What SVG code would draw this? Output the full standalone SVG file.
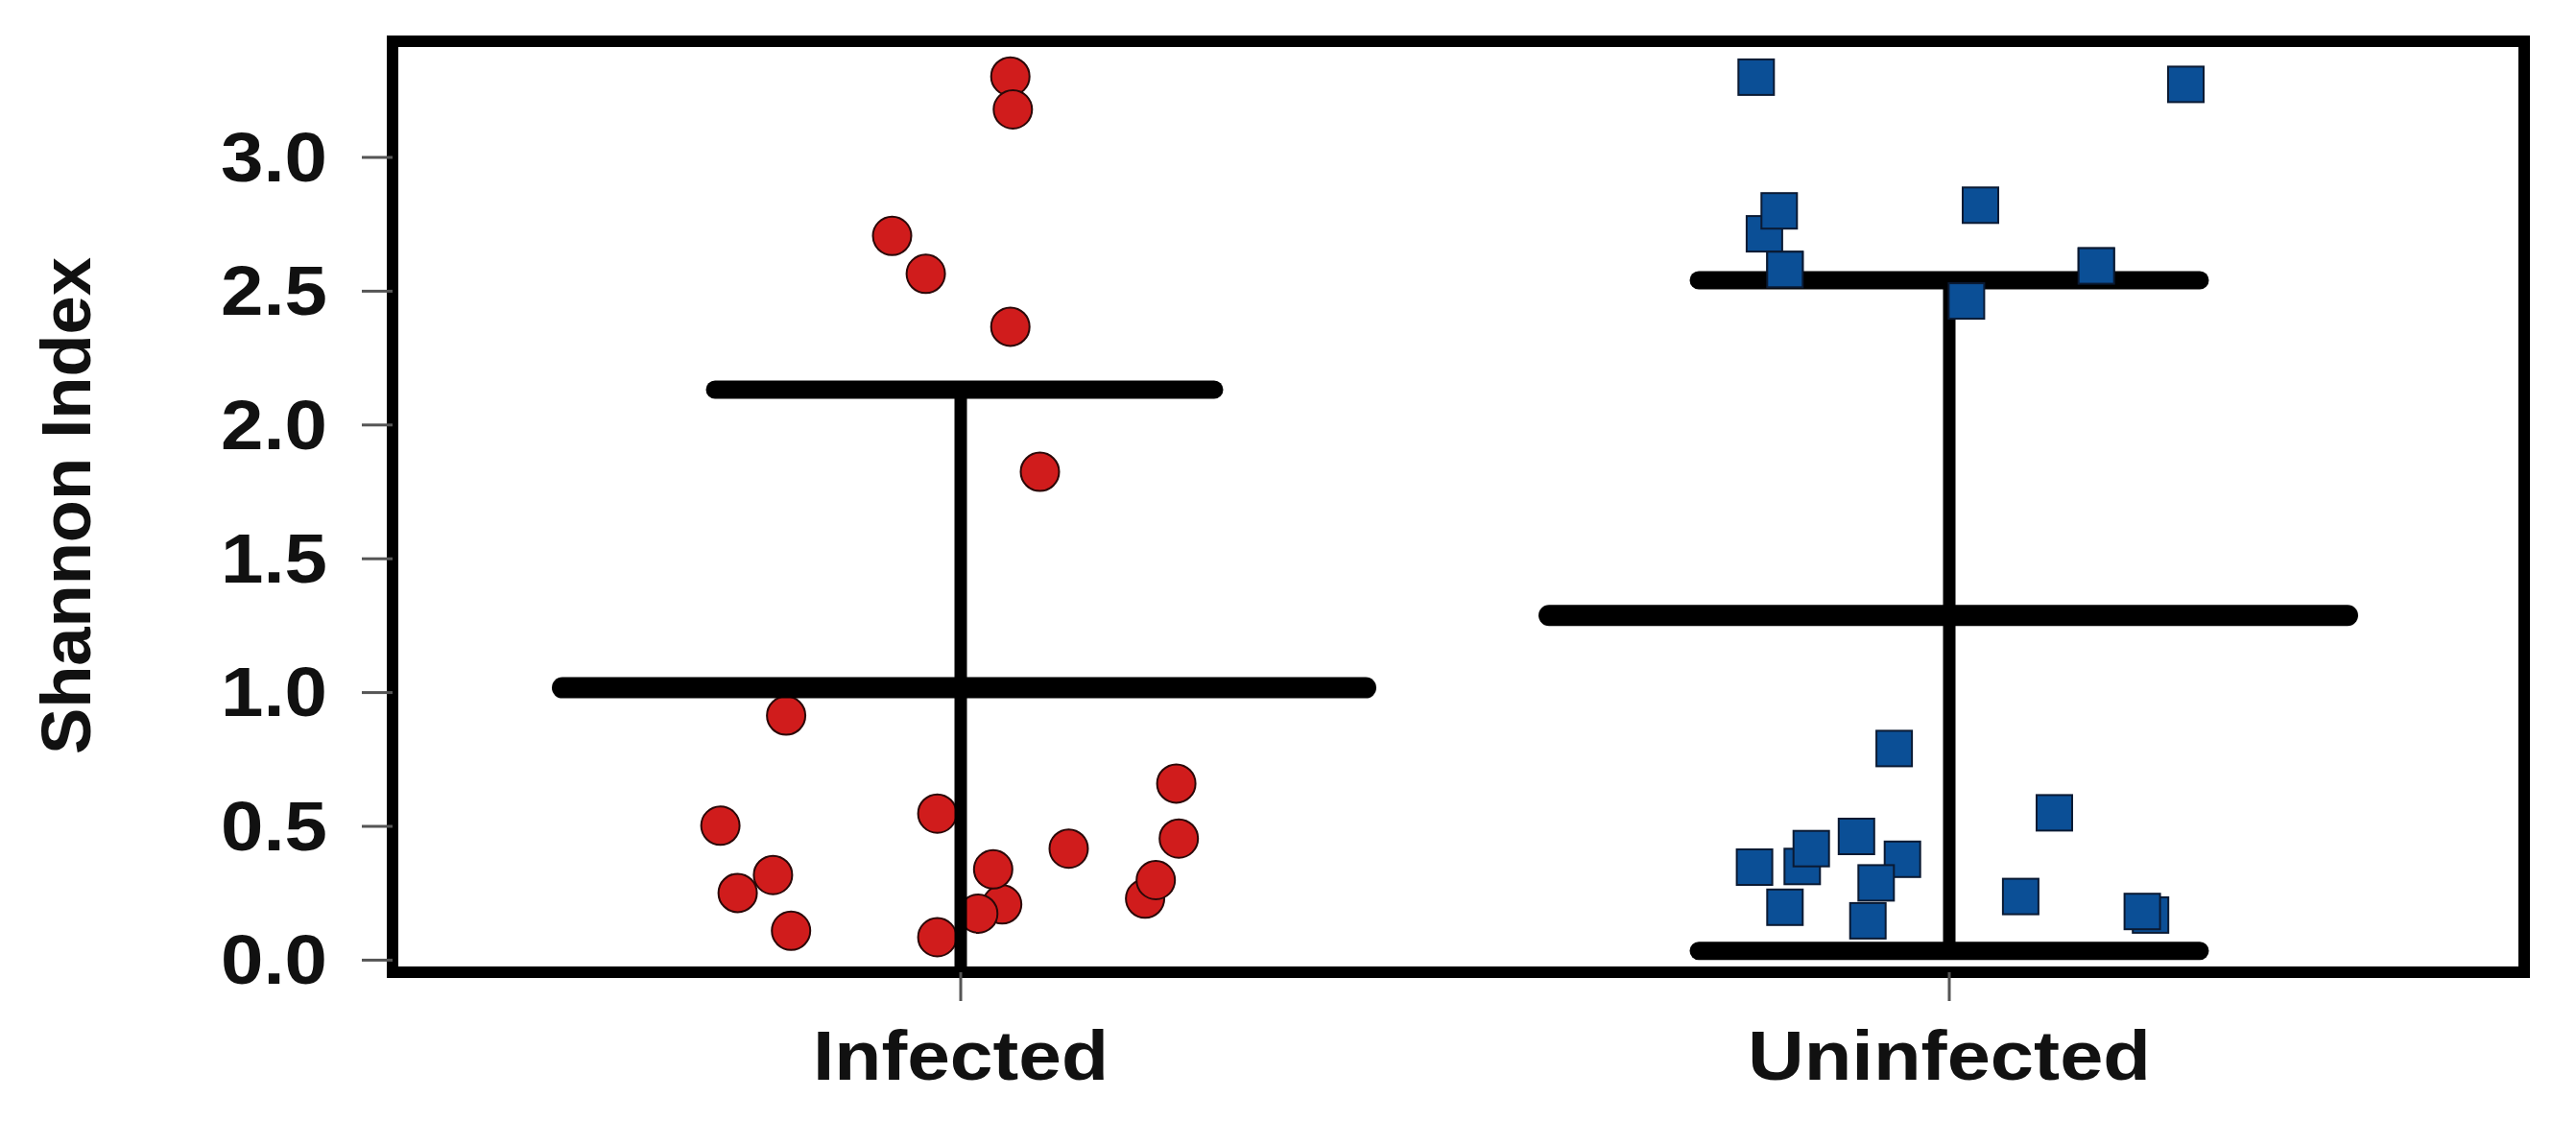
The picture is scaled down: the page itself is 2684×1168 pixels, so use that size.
<svg xmlns="http://www.w3.org/2000/svg" width="2684" height="1168" viewBox="0 0 2684 1168">
<style>
.t{font-family:"Liberation Sans",Arial,sans-serif;font-weight:bold;fill:#111}
.c{fill:#d01c1c;stroke:#2a0808;stroke-width:2}
.s{fill:#0b4f96;stroke:#0a1a33;stroke-width:2}
.bar{stroke:#000;stroke-linecap:round;fill:none}
.tk{stroke:#555;stroke-width:3}
</style>
<rect width="2684" height="1168" fill="#fff"/>
<g id="axes">
<rect x="409" y="43" width="2221" height="970" fill="none" stroke="#000" stroke-width="12"/>
<g class="tk">
<line x1="377" y1="1000.4" x2="409" y2="1000.4"/><line x1="377" y1="861" x2="409" y2="861"/>
<line x1="377" y1="721.6" x2="409" y2="721.6"/><line x1="377" y1="582.2" x2="409" y2="582.2"/>
<line x1="377" y1="442.8" x2="409" y2="442.8"/><line x1="377" y1="303.4" x2="409" y2="303.4"/>
<line x1="377" y1="164" x2="409" y2="164"/>
<line x1="1001" y1="1013" x2="1001" y2="1043"/><line x1="2031" y1="1013" x2="2031" y2="1043"/>
</g>
<g class="t" font-size="72" text-anchor="end">
<text x="341" y="1025" textLength="111" lengthAdjust="spacingAndGlyphs">0.0</text>
<text x="341" y="886" textLength="111" lengthAdjust="spacingAndGlyphs">0.5</text>
<text x="341" y="746" textLength="111" lengthAdjust="spacingAndGlyphs">1.0</text>
<text x="341" y="607" textLength="111" lengthAdjust="spacingAndGlyphs">1.5</text>
<text x="341" y="468" textLength="111" lengthAdjust="spacingAndGlyphs">2.0</text>
<text x="341" y="328" textLength="111" lengthAdjust="spacingAndGlyphs">2.5</text>
<text x="341" y="189" textLength="111" lengthAdjust="spacingAndGlyphs">3.0</text>
</g>
<text class="t" font-size="72" text-anchor="middle" x="1001" y="1125" textLength="308" lengthAdjust="spacingAndGlyphs">Infected</text>
<text class="t" font-size="72" text-anchor="middle" x="2031" y="1125" textLength="420" lengthAdjust="spacingAndGlyphs">Uninfected</text>
<text class="t" font-size="72" text-anchor="middle" transform="translate(94 527) rotate(-90)" textLength="518" lengthAdjust="spacingAndGlyphs">Shannon Index</text>
</g>
<g id="infected-points">
<circle class="c" cx="1052.7" cy="79.7" r="20"/><circle class="c" cx="1055.3" cy="114" r="20"/>
<circle class="c" cx="929.5" cy="245.8" r="20"/><circle class="c" cx="964.6" cy="285.3" r="20"/>
<circle class="c" cx="1052.7" cy="340.4" r="20"/><circle class="c" cx="1083.5" cy="491.6" r="20"/>
<circle class="c" cx="819.1" cy="745.6" r="20"/><circle class="c" cx="750.6" cy="860.3" r="20"/>
<circle class="c" cx="805.4" cy="911.7" r="20"/><circle class="c" cx="768.6" cy="930.4" r="20"/>
<circle class="c" cx="824.2" cy="969.8" r="20"/><circle class="c" cx="976.6" cy="847.7" r="20"/>
<circle class="c" cx="976.6" cy="976.5" r="20"/><circle class="c" cx="1044.2" cy="942.3" r="20"/>
<circle class="c" cx="1034.8" cy="905.8" r="20"/><circle class="c" cx="1019.3" cy="951.9" r="20"/>
<circle class="c" cx="1113.5" cy="884.2" r="20"/><circle class="c" cx="1225.6" cy="816.4" r="20"/>
<circle class="c" cx="1228.2" cy="873.7" r="20"/><circle class="c" cx="1193.1" cy="936.3" r="20"/>
<circle class="c" cx="1204.2" cy="917" r="20"/>
</g>
<g id="uninfected-points">
<rect class="s" x="1811.3" y="61.9" width="37" height="37"/><rect class="s" x="2259" y="69.4" width="37" height="37"/>
<rect class="s" x="1819.9" y="225.1" width="37" height="37"/><rect class="s" x="1835.3" y="201.2" width="37" height="37"/>
<rect class="s" x="2045" y="195.3" width="37" height="37"/><rect class="s" x="1841.3" y="262.3" width="37" height="37"/>
<rect class="s" x="2165.7" y="258.6" width="37" height="37"/>
</g>
<g id="error-bars" class="bar">
<line x1="1001" y1="406" x2="1001" y2="1010" stroke-width="13" stroke-linecap="butt"/>
<line x1="745" y1="406" x2="1265" y2="406" stroke-width="19"/>
<line x1="586" y1="716.6" x2="1423" y2="716.6" stroke-width="22"/>
<line x1="2031" y1="292" x2="2031" y2="991" stroke-width="13" stroke-linecap="butt"/>
<line x1="1770" y1="292" x2="2292" y2="292" stroke-width="19"/>
<line x1="1614" y1="641.3" x2="2446" y2="641.3" stroke-width="22"/>
<line x1="1770" y1="990.7" x2="2292" y2="990.7" stroke-width="19"/>
</g>
<g id="uninfected-points-2">
<rect class="s" x="1841.3" y="262.3" width="37" height="37"/><rect class="s" x="2165.7" y="258.6" width="37" height="37"/>
<rect class="s" x="2030.4" y="295.1" width="37" height="37"/>
<rect class="s" x="1955.1" y="761.4" width="37" height="37"/><rect class="s" x="2122" y="828.4" width="37" height="37"/>
<rect class="s" x="1915.8" y="853" width="37" height="37"/><rect class="s" x="1809.6" y="885" width="37" height="37"/>
<rect class="s" x="1859.3" y="884.3" width="37" height="37"/><rect class="s" x="1868.7" y="865.7" width="37" height="37"/>
<rect class="s" x="1963.7" y="876.8" width="37" height="37"/><rect class="s" x="1936.3" y="901.4" width="37" height="37"/>
<rect class="s" x="1841.3" y="926.8" width="37" height="37"/><rect class="s" x="1927.7" y="940.9" width="37" height="37"/>
<rect class="s" x="2086.9" y="915.6" width="37" height="37"/><rect class="s" x="2222.2" y="934.9" width="37" height="37"/>
<rect class="s" x="2213.6" y="931.2" width="37" height="37"/>
</g>
</svg>
